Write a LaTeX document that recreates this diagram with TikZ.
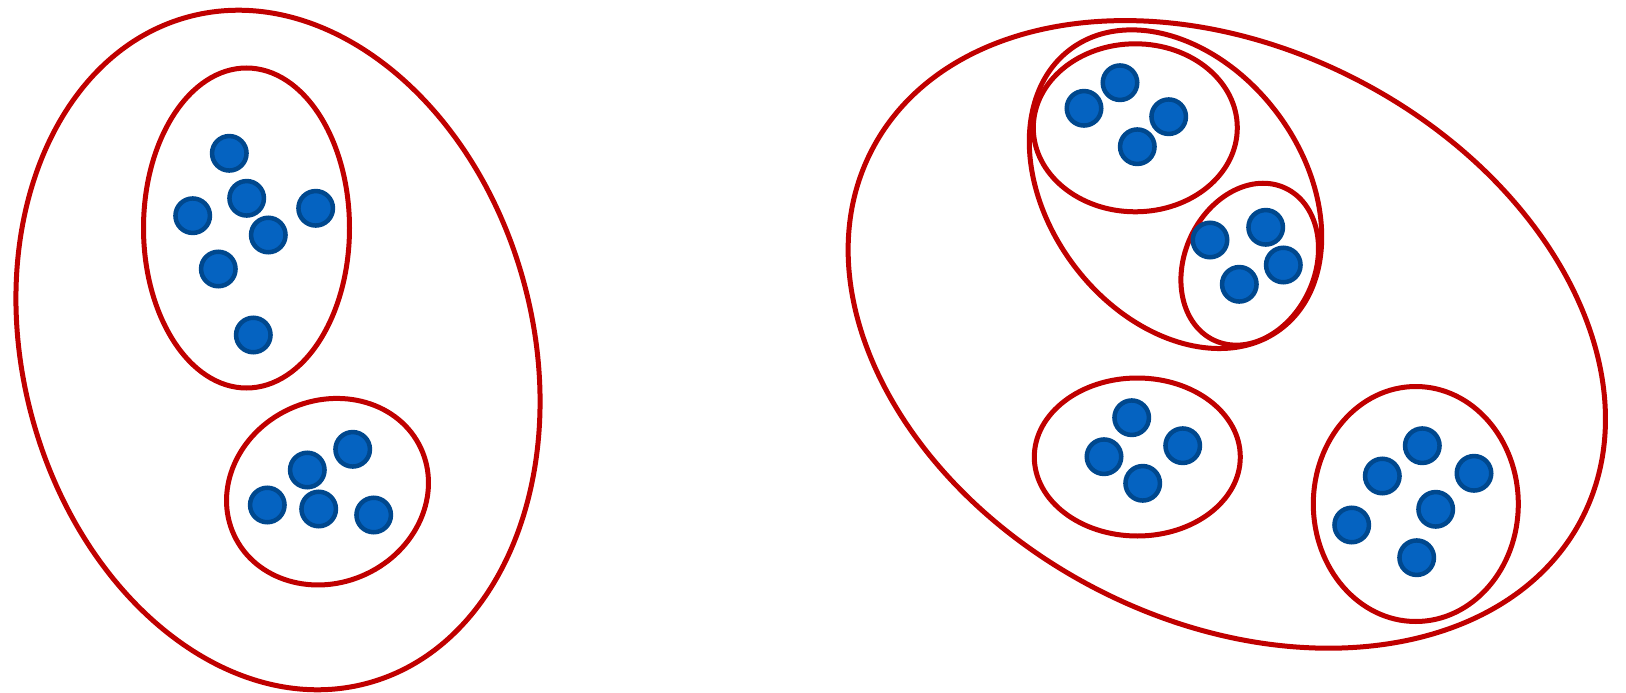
\documentclass[tikz,border=0pt]{standalone}
\definecolor{setred}{RGB}{192,0,0}
\definecolor{dotfill}{RGB}{5,99,193}
\definecolor{dotline}{RGB}{0,72,142}
\tikzset{
  setline/.style={draw=setred, line width=5pt},
  dot/.style={circle, draw=dotline, fill=dotfill, line width=4.5pt, minimum size=34.5pt, inner sep=0pt}
}
\begin{document}
\begin{tikzpicture}[x=1pt,y=-1pt]
\useasboundingbox (0,0) rectangle (1626,693);
% ---------- left diagram ----------
\draw[setline] (278,350) circle [x radius=255pt, y radius=345pt, rotate=15];
\draw[setline] (246.5,228) circle [x radius=103pt, y radius=160pt];
\draw[setline] (327.5,491.7) circle [x radius=103pt, y radius=91pt, rotate=25];
\node[dot] (a1) at (229.3,153.3) {};
\node[dot] (a2) at (246.7,198.3) {};
\node[dot] (a3) at (192.7,215.7) {};
\node[dot] (a4) at (315.7,208.3) {};
\node[dot] (a5) at (268.3,235) {};
\node[dot] (a6) at (218.3,269) {};
\node[dot] (a7) at (253.3,335) {};
\node[dot] (b1) at (352.7,449.3) {};
\node[dot] (b2) at (307.3,470) {};
\node[dot] (b3) at (267.3,505) {};
\node[dot] (b4) at (318.7,509) {};
\node[dot] (b5) at (373.7,515) {};
% ---------- right diagram ----------
\draw[setline] (1226.8,334.4) circle [x radius=400pt, y radius=286pt, rotate=-27.5];
\draw[setline] (1175.5,189.2) circle [x radius=175pt, y radius=127pt, rotate=-53];
\draw[setline] (1135.3,127.8) circle [x radius=102pt, y radius=84pt];
\draw[setline] (1249.7,264.2) circle [x radius=65pt, y radius=84pt, rotate=-25];
\draw[setline] (1137.3,457) circle [x radius=103pt, y radius=79pt];
\draw[setline] (1415.8,504) circle [x radius=102.5pt, y radius=117.5pt];
\node[dot] (c1) at (1120,82.7) {};
\node[dot] (c2) at (1084,108.3) {};
\node[dot] (c3) at (1168.7,116.7) {};
\node[dot] (c4) at (1137.3,146.7) {};
\node[dot] (d1) at (1210,240) {};
\node[dot] (d2) at (1265.7,227.3) {};
\node[dot] (d3) at (1283.3,265) {};
\node[dot] (d4) at (1239.3,284.3) {};
\node[dot] (e1) at (1131.7,417.7) {};
\node[dot] (e2) at (1104,456.7) {};
\node[dot] (e3) at (1182.7,445.7) {};
\node[dot] (e4) at (1142.7,483.3) {};
\node[dot] (f1) at (1422.3,445.7) {};
\node[dot] (f2) at (1382.3,476) {};
\node[dot] (f3) at (1474,473.3) {};
\node[dot] (f4) at (1435.7,509.3) {};
\node[dot] (f5) at (1351.7,525) {};
\node[dot] (f6) at (1416.7,557.7) {};
\end{tikzpicture}
\end{document}
